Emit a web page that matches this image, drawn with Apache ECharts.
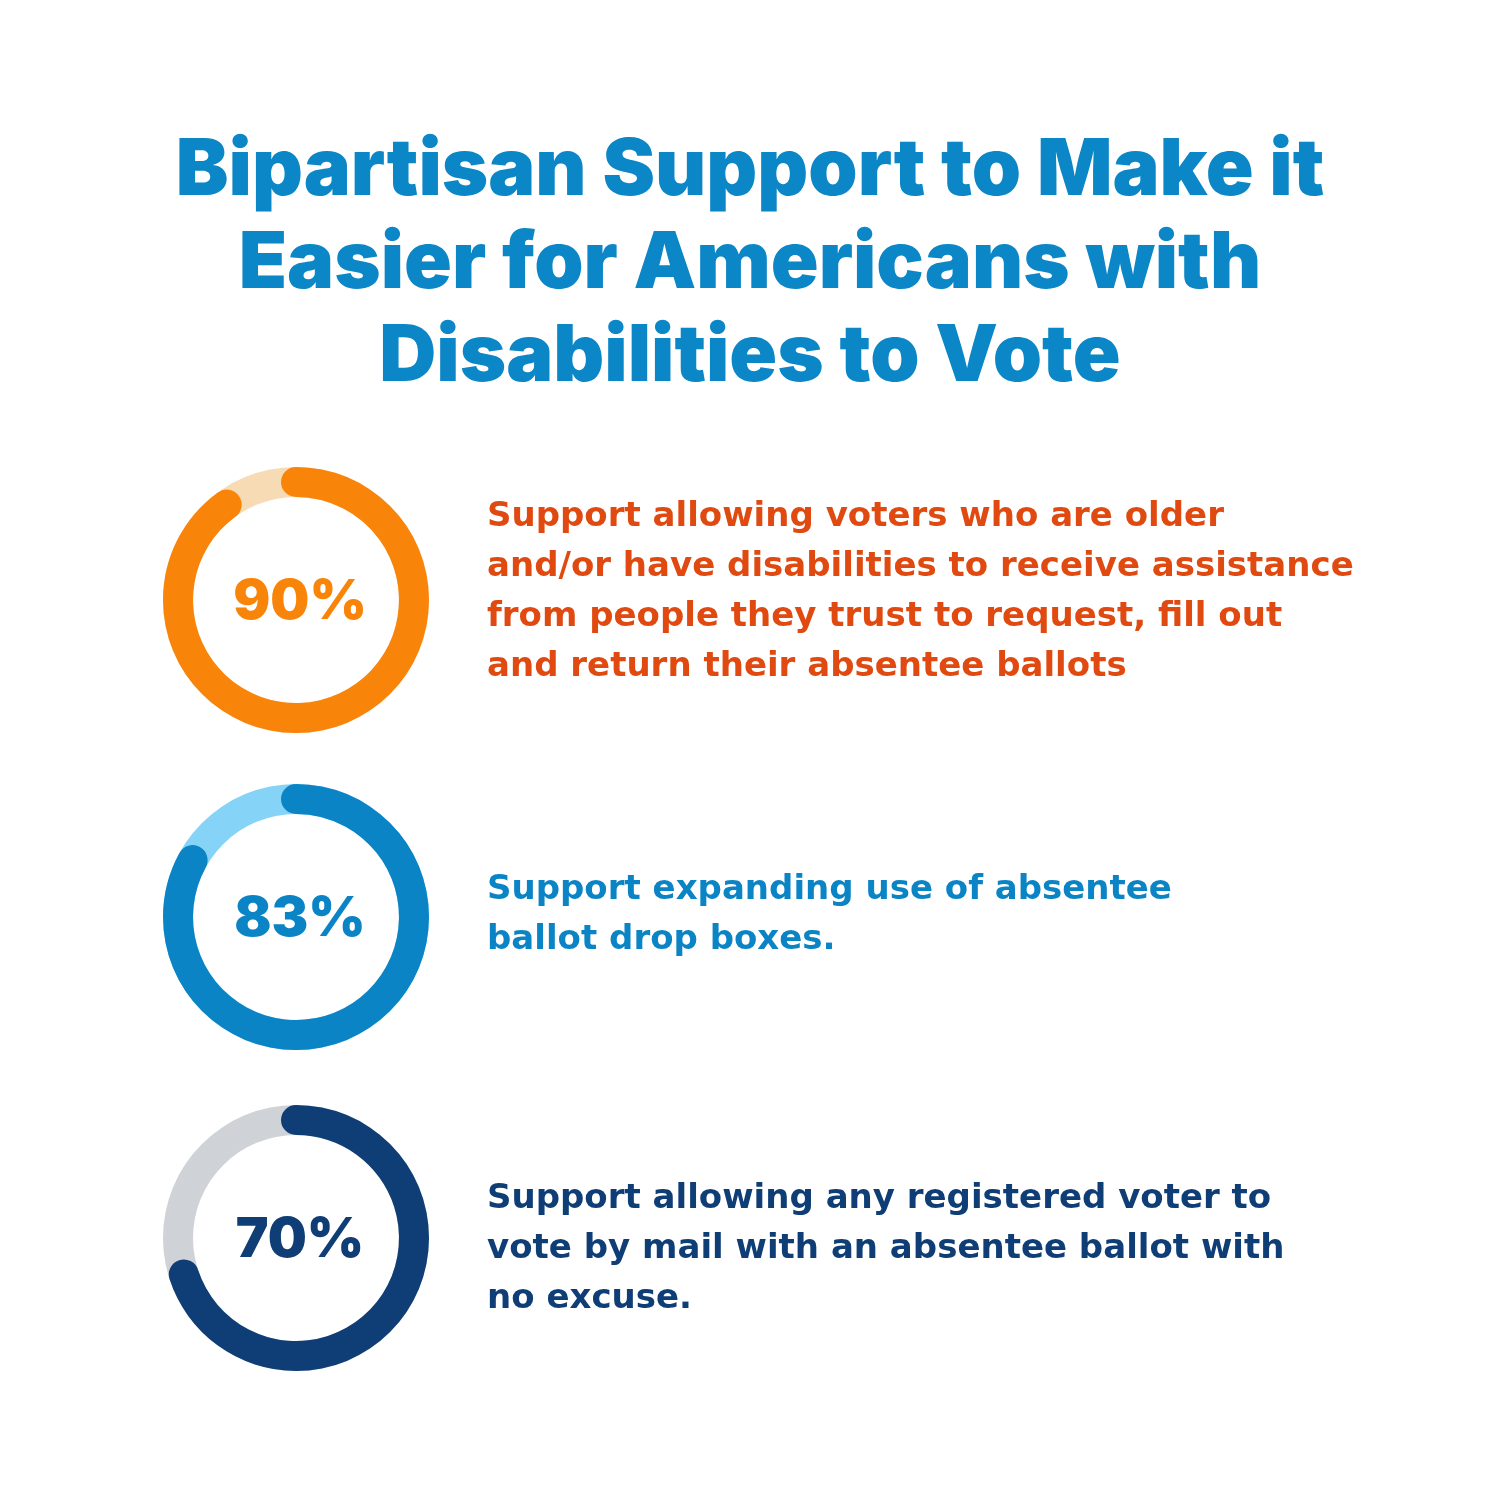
<!DOCTYPE html>
<html>
<head>
<meta charset="utf-8">
<script src="https://cdn.jsdelivr.net/npm/echarts@6/dist/echarts.min.js"></script>
<style>
html,body{margin:0;padding:0;background:#fff;}
#chart{width:1500px;height:1500px;}
</style>
</head>
<body>
<div id="chart"></div>
<script>
// ---- data ----
var titleLines = ['Bipartisan Support to Make it', 'Easier for Americans with', 'Disabilities to Vote'];
var values = [90, 83, 70];
var descriptions = [
  ['Support allowing voters who are older', 'and/or have disabilities to receive assistance', 'from people they trust to request, fill out', 'and return their absentee ballots'],
  ['Support expanding use of absentee', 'ballot drop boxes.'],
  ['Support allowing any registered voter to', 'vote by mail with an absentee ballot with', 'no excuse.']
];
var mainColors = ['#f9840a', '#0a84c5', '#0e3e75'];
var trackColors = ['#f6dbb5', '#86d3f8', '#cfd2d6'];
var textColors = ['#e0490f', '#0a84c5', '#0e3e75'];
var centersY = [600, 917, 1238];

var HEAVY = 'Inter';
var BODY = '"DejaVu Sans"';

var series = values.map(function (v, i) {
  return {
    type: 'gauge',
    center: [296, centersY[i]],
    radius: 133,
    startAngle: 90,
    endAngle: -270,
    min: 0,
    max: 100,
    pointer: { show: false },
    progress: { show: true, width: 30, roundCap: true, itemStyle: { color: mainColors[i] } },
    axisLine: { lineStyle: { width: 30, color: [[1, trackColors[i]]] } },
    splitLine: { show: false },
    axisTick: { show: false },
    axisLabel: { show: false },
    title: { show: false },
    detail: {
      formatter: '{value}%',
      offsetCenter: [4, 2],
      fontSize: 55,
      fontWeight: 900,
      fontFamily: HEAVY,
      color: mainColors[i]
    },
    data: [{ value: v }]
  };
});

var graphics = [];
titleLines.forEach(function (t, i) {
  graphics.push({
    type: 'text',
    left: 'center',
    top: 132 + i * 93,
    style: { text: t, fontSize: 79, fontWeight: 900, fontFamily: HEAVY, fill: '#0b86c6' }
  });
});
var descTop = [500, 873, 1182];
descriptions.forEach(function (lines, i) {
  lines.forEach(function (t, j) {
    graphics.push({
      type: 'text',
      left: 487,
      top: descTop[i] + j * 50,
      style: { text: t, fontSize: 34, fontWeight: 'bold', fontFamily: BODY, fill: textColors[i] }
    });
  });
});

var chart = echarts.init(document.getElementById('chart'));
chart.setOption({
  animation: false,
  backgroundColor: '#ffffff',
  series: series,
  graphic: graphics
});
</script>
</body>
</html>
